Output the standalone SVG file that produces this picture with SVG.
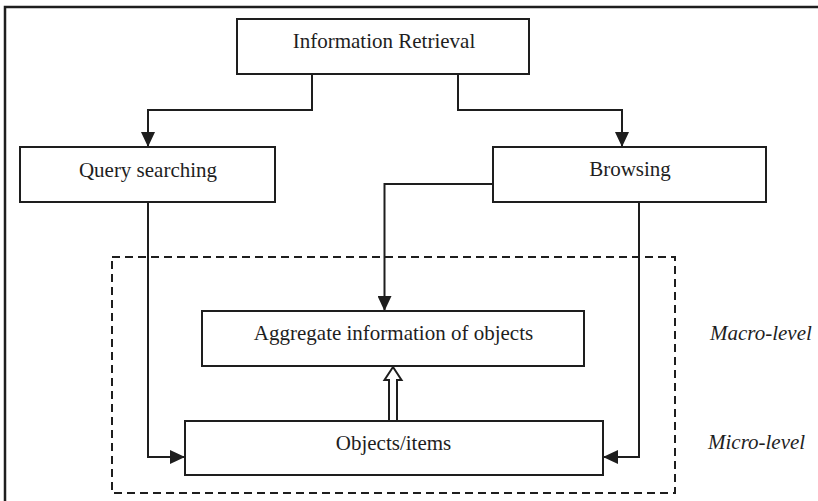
<svg xmlns="http://www.w3.org/2000/svg" width="818" height="501" viewBox="0 0 818 501">
<style>
  .box{fill:#fff;stroke:#1e1e1e;stroke-width:2}
  .lbl{font-family:"Liberation Serif","Times New Roman",serif;font-size:21px;fill:#1e1e1e;text-anchor:middle}
  .lvl{font-family:"Liberation Serif","Times New Roman",serif;font-size:21px;font-style:italic;fill:#1e1e1e}
  .conn{fill:none;stroke:#1e1e1e;stroke-width:2}
</style>
<defs>
  <marker id="arr" viewBox="0 0 15 14" refX="15" refY="7" markerWidth="15" markerHeight="14" markerUnits="userSpaceOnUse" orient="auto">
    <path d="M0,0 L15,7 L0,14 Z" fill="#1e1e1e"/>
  </marker>
</defs>
<rect width="818" height="501" fill="#fff"/>
<path d="M5,501 V7 H818" fill="none" stroke="#1e1e1e" stroke-width="2.5"/>
<rect id="levels" x="112" y="257" width="563" height="236" fill="none" stroke="#1e1e1e" stroke-width="2" stroke-dasharray="8,5"/>
<g id="connectors">
  <path class="conn" d="M312,74 V110 H148 V147" marker-end="url(#arr)"/>
  <path class="conn" d="M458,74 V110 H622 V147" marker-end="url(#arr)"/>
  <path class="conn" d="M148,202 V457 H185" marker-end="url(#arr)"/>
  <path class="conn" d="M639,202 V457 H603" marker-end="url(#arr)"/>
  <path class="conn" d="M493,184 H384.5 V311" marker-end="url(#arr)"/>
  <path d="M389,421 V380 H384.5 L393,367 L401.5,380 H397 V421" fill="#fff" stroke="#1e1e1e" stroke-width="2" stroke-linejoin="miter"/>
</g>
<g id="ir"><rect class="box" x="237" y="19" width="292" height="55"/><text class="lbl" x="384" y="48">Information Retrieval</text></g>
<g id="query"><rect class="box" x="20" y="147" width="255" height="55"/><text class="lbl" x="148" y="177">Query searching</text></g>
<g id="browsing"><rect class="box" x="493" y="147" width="273" height="55"/><text class="lbl" x="630" y="176">Browsing</text></g>
<g id="aggregate"><rect class="box" x="202" y="311" width="382" height="55"/><text class="lbl" x="393.5" y="340">Aggregate information of objects</text></g>
<g id="objects"><rect class="box" x="185" y="421" width="418" height="54"/><text class="lbl" x="393.5" y="450">Objects/items</text></g>
<text class="lvl" x="710" y="340">Macro-level</text>
<text class="lvl" x="708" y="449">Micro-level</text>
</svg>
